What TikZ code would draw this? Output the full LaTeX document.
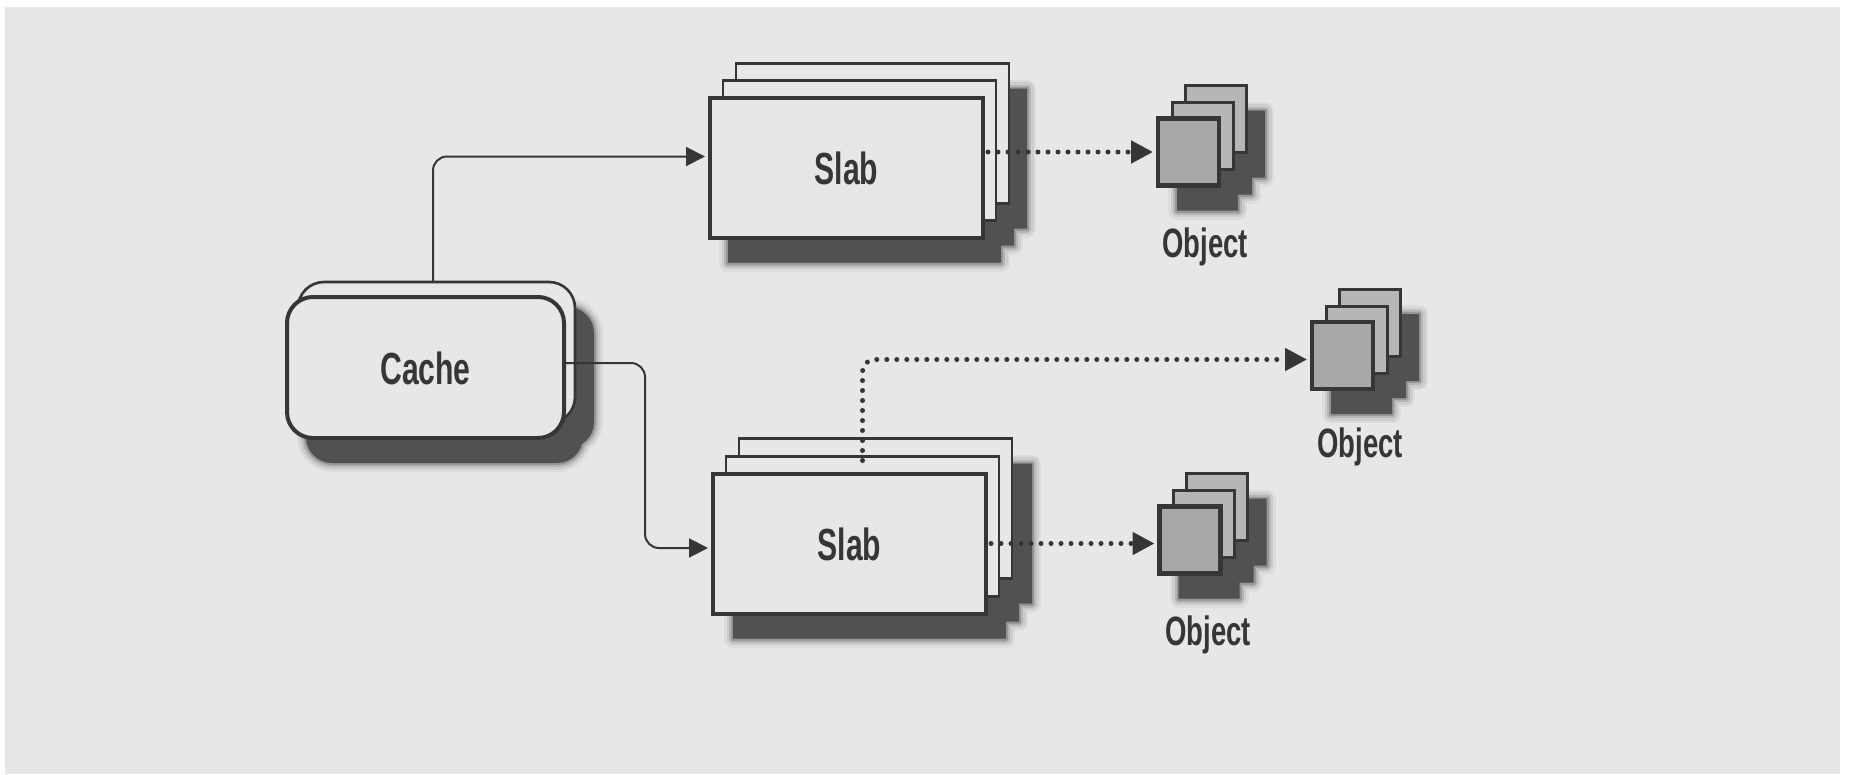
\documentclass[tikz,border=0pt]{standalone}
\usepackage{fontspec}
\newfontfamily\lblfont[FakeStretch=0.67]{Liberation Sans}
\usetikzlibrary{arrows.meta}
\definecolor{paper}{HTML}{E7E7E7}
\definecolor{ink}{HTML}{363636}
\definecolor{shade}{HTML}{515151}
\definecolor{objfill}{HTML}{A8A8A8}
\definecolor{objback}{HTML}{B6B6B6}
\pgfdeclarelayer{paperlayer}
\pgfdeclarelayer{shadowlayer}
\pgfsetlayers{paperlayer,shadowlayer,main}
% soft drop shadow: a few translucent strokes round a solid fill
\newcommand\dropshadow[2][]{%
  \foreach \w/\op in {18/0.07,13/0.11,8/0.18,4/0.3}{%
    \path[#1, draw=shade, line width=\w pt, draw opacity=\op, line join=round] #2;}%
  \path[#1, fill=shade] #2;}
\begin{document}
\begin{tikzpicture}[x=1pt,y=-1pt,
  lbl/.style={font=\lblfont\bfseries\fontsize{45}{50}\selectfont, text=ink},
  slabfront/.style={draw=ink, line width=4pt, fill=paper, minimum width=273pt,
    minimum height=140pt, inner sep=0pt, outer sep=0pt, text height=33pt, text depth=0pt, lbl},
  slabback/.style={draw=ink, line width=2.6pt, fill=paper, minimum width=273pt,
    minimum height=140pt, inner sep=0pt, outer sep=0pt},
  cachefront/.style={slabfront, rounded corners=26pt, minimum width=277pt, minimum height=141pt},
  cacheback/.style={slabback, rounded corners=26pt, minimum width=277pt, minimum height=141pt},
  objfront/.style={draw=ink, line width=4.5pt, fill=objfill, minimum width=61pt,
    minimum height=67pt, inner sep=0pt, outer sep=0pt},
  objrear/.style={objfront, line width=3pt, fill=objback},
  objlabel/.style={font=\lblfont\bfseries\fontsize{41}{46}\selectfont, text=ink,
    inner sep=0pt, anchor=base},
  conn/.style={draw=ink, line width=2pt, rounded corners=14pt, shorten >=5pt,
    -{Triangle[length=19pt,width=19pt]}},
  dotconn/.style={draw=ink, line width=5pt, dash pattern=on 0pt off 10pt,
    line cap=round, rounded corners=12pt, shorten >=5pt,
    -{Triangle[length=22pt,width=22pt]}},
]
\useasboundingbox (0,0) rectangle (1849,774);
\begin{pgfonlayer}{paperlayer}
  \fill[white] (0,0) rectangle (1849,774);
  \fill[paper] (5,7) rectangle (1840,774);
\end{pgfonlayer}

% anchor points of the front members of each stack
\coordinate (cpos) at (425.5,367.5);
\coordinate (s1pos) at (846.5,167.5);
\coordinate (s2pos) at (849.5,543.5);
\coordinate (o1pos) at (1188.5,152);
\coordinate (o2pos) at (1342.5,355.5);
\coordinate (o3pos) at (1190,540);

% cache
\node[cacheback] (cb) at ([shift={(11,-15)}]cpos) {};
\node[cachefront] (ca) at (cpos) {Cache};

% slabs, back to front
\node[slabback] (s1c) at ([shift={(26,-34)}]s1pos) {};
\node[slabback] (s1b) at ([shift={(13,-17)}]s1pos) {};
\node[slabfront] (s1) at (s1pos) {Slab};
\node[slabback] (s2c) at ([shift={(26,-35)}]s2pos) {};
\node[slabback] (s2b) at ([shift={(13,-17)}]s2pos) {};
\node[slabfront] (s2) at (s2pos) {Slab};

% object stacks
\foreach \o in {o1,o2,o3}{
  \node[objrear] (\o c) at ([shift={(27,-33)}]\o pos) {};
  \node[objrear] (\o b) at ([shift={(14,-16)}]\o pos) {};
  \node[objfront] (\o a) at (\o pos) {};
}
\node[objlabel] (o1l) at (1205,257) {Object};
\node[objlabel] (o2l) at (1360,457) {Object};
\node[objlabel] (o3l) at (1208,645) {Object};

% drop shadows
\begin{pgfonlayer}{shadowlayer}
  \dropshadow[rounded corners=26pt]{([shift={(19,25)}]cb.north west) rectangle ([shift={(19,25)}]cb.south east)
    ([shift={(19,25)}]ca.north west) rectangle ([shift={(19,25)}]ca.south east)}
  \dropshadow{([shift={(18,25)}]s1c.north west) rectangle ([shift={(18,25)}]s1c.south east)
    ([shift={(18,25)}]s1b.north west) rectangle ([shift={(18,25)}]s1b.south east)
    ([shift={(18,25)}]s1.north west) rectangle ([shift={(18,25)}]s1.south east)}
  \dropshadow{([shift={(20,25)}]s2c.north west) rectangle ([shift={(20,25)}]s2c.south east)
    ([shift={(20,25)}]s2b.north west) rectangle ([shift={(20,25)}]s2b.south east)
    ([shift={(20,25)}]s2.north west) rectangle ([shift={(20,25)}]s2.south east)}
  \foreach \o in {o1,o2,o3}{
    \dropshadow{([shift={(19,25)}]\o c.north west) rectangle ([shift={(19,25)}]\o c.south east)
      ([shift={(19,25)}]\o b.north west) rectangle ([shift={(19,25)}]\o b.south east)
      ([shift={(19,25)}]\o a.north west) rectangle ([shift={(19,25)}]\o a.south east)}
  }
\end{pgfonlayer}

% connectors
\coordinate (bend2) at (645,363);
\draw[conn] ([xshift=-3.5pt]cb.north) |- ([yshift=11pt]s1.west);
\draw[conn] ([yshift=4.5pt]ca.east) -- (bend2) |- ([yshift=-4.5pt]s2.west);
\draw[dotconn] ([xshift=5pt]s1.east |- o1a.west) -- (o1a.west);
\draw[dotconn] ([xshift=5pt]s2.east) -- (s2.east -| o3a.west);
\draw[dotconn] ([yshift=-4pt]s2b.north) |- ([yshift=-4pt]o2a.west);
\end{tikzpicture}
\end{document}
